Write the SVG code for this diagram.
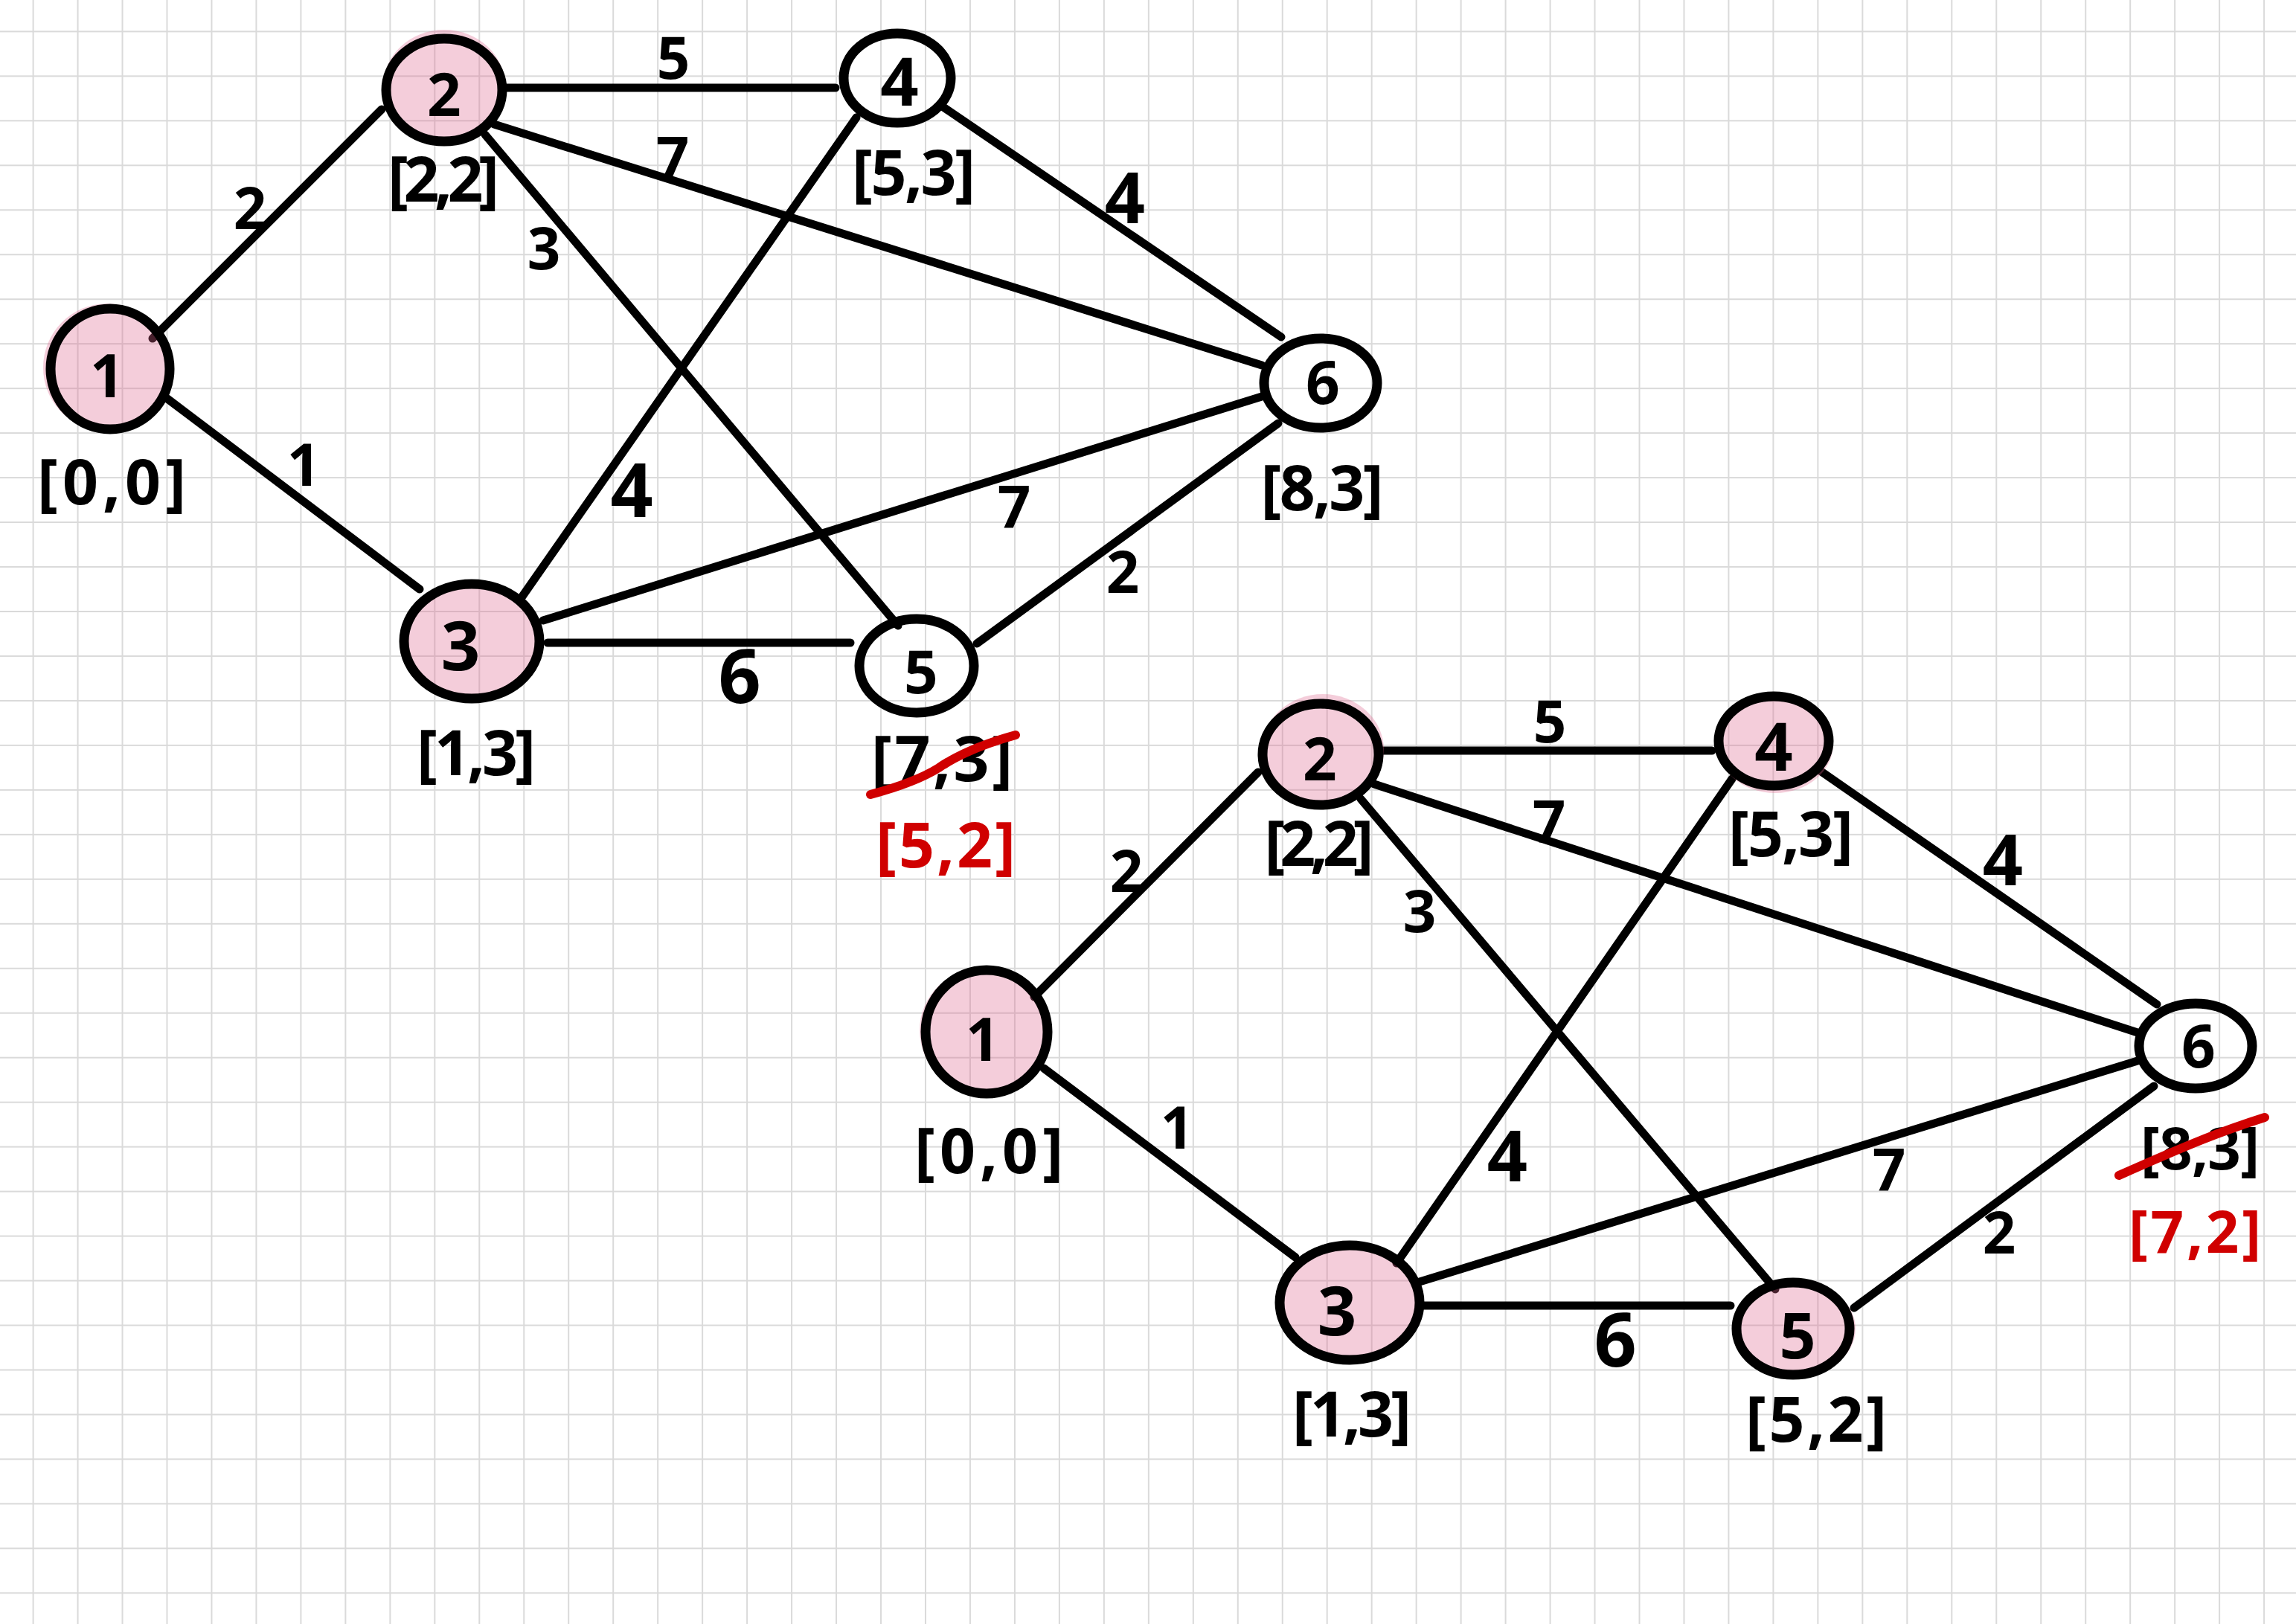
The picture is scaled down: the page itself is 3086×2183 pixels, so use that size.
<svg xmlns="http://www.w3.org/2000/svg" width="3086" height="2183" viewBox="0 0 3086 2183">
<defs>
<pattern id="gridpat" patternUnits="userSpaceOnUse" x="14.6" y="12.4" width="59.97" height="59.97">
<path d="M29.985 0V59.97M0 29.985H59.97" stroke="#dadada" stroke-width="2" fill="none"/>
</pattern>
</defs>
<style>
.edge{stroke:#000;stroke-width:11;stroke-linecap:round;fill:none}
.ring{stroke:#000;stroke-width:13;fill:none}
.pink{fill:#dc648c;fill-opacity:0.32;stroke:none}
.t{font-family:"Noto Sans","DejaVu Sans",sans-serif;font-weight:700;text-anchor:middle;fill:#000}
.nl{font-size:80px}
.wl{font-size:78px}
.cl{font-size:84px}
.red{fill:#d00000}
.strike{stroke:#d00000;stroke-width:12;stroke-linecap:round;fill:none}
</style>
<rect width="3086" height="2183" fill="#ffffff"/>
<rect width="3086" height="2183" fill="url(#gridpat)"/>

<g id="connectors">
<!-- top graph -->
<line class="edge" x1="205" y1="455" x2="513" y2="147"/>
<line class="edge" x1="225" y1="536" x2="564" y2="792"/>
<line class="edge" x1="678" y1="118" x2="1123" y2="118"/>
<line class="edge" x1="664" y1="167" x2="1696" y2="491"/>
<line class="edge" x1="652" y1="181" x2="1207" y2="841"/>
<line class="edge" x1="1151" y1="158" x2="699" y2="806"/>
<line class="edge" x1="1265" y1="142" x2="1722" y2="453"/>
<line class="edge" x1="730" y1="834" x2="1696" y2="533"/>
<line class="edge" x1="736" y1="864" x2="1143" y2="864"/>
<line class="edge" x1="1313" y1="865" x2="1718" y2="569"/>
<text class="t wl" x="336" y="308">2</text>
<text class="t wl" x="408" y="653">1</text>
<text class="t wl" x="905" y="106">5</text>
<text class="t wl" x="904" y="240">7</text>
<text class="t wl" x="731" y="362">3</text>
<text class="t wl" x="849" y="695" style="font-size:100px">4</text>
<text class="t wl" x="1512" y="300" style="font-size:95px">4</text>
<text class="t wl" x="1363" y="709">7</text>
<text class="t wl" x="994" y="945" style="font-size:100px">6</text>
<text class="t wl" x="1509" y="797">2</text>
<!-- bottom graph -->
<line class="edge" x1="1390" y1="1340" x2="1691" y2="1038"/>
<line class="edge" x1="1403" y1="1436" x2="1741" y2="1690"/>
<line class="edge" x1="1858" y1="1009" x2="2301" y2="1009"/>
<line class="edge" x1="1847" y1="1054" x2="2873" y2="1388"/>
<line class="edge" x1="1829" y1="1074" x2="2386" y2="1733"/>
<line class="edge" x1="2328" y1="1047" x2="1877" y2="1698"/>
<line class="edge" x1="2442" y1="1033" x2="2899" y2="1350"/>
<line class="edge" x1="1908" y1="1723" x2="2873" y2="1426"/>
<line class="edge" x1="1914" y1="1755" x2="2326" y2="1755"/>
<line class="edge" x1="2492" y1="1758" x2="2895" y2="1460"/>
<text class="t wl" x="1514" y="1199">2</text>
<text class="t wl" x="1582" y="1544">1</text>
<text class="t wl" x="2083" y="998">5</text>
<text class="t wl" x="2082" y="1132">7</text>
<text class="t wl" x="1908" y="1253">3</text>
<text class="t wl" x="2026" y="1588" style="font-size:95px">4</text>
<text class="t wl" x="2692" y="1190" style="font-size:95px">4</text>
<text class="t wl" x="2539" y="1600">7</text>
<text class="t wl" x="2171" y="1837" style="font-size:100px">6</text>
<text class="t wl" x="2687" y="1685">2</text>
</g>

<g id="top-n1">
<ellipse class="pink" cx="144" cy="494" rx="86" ry="86"/>
<ellipse class="ring" cx="148" cy="496" rx="80" ry="81"/>
<text class="t nl" x="144" y="534">1</text>
<text class="t cl" x="150" y="678" textLength="200" lengthAdjust="spacing">[0,0]</text>
</g>
<g id="top-n2">
<ellipse class="pink" cx="597" cy="116" rx="82" ry="76"/>
<ellipse class="ring" cx="597" cy="121" rx="78" ry="69"/>
<text class="t nl" x="597" y="156">2</text>
<text class="t cl" x="596" y="271" textLength="150" lengthAdjust="spacing">[2,2]</text>
</g>
<g id="top-n3">
<ellipse class="pink" cx="637" cy="862" rx="93" ry="80"/>
<ellipse class="ring" cx="634" cy="862" rx="91" ry="77"/>
<text class="t nl" x="619" y="901" style="font-size:92px">3</text>
<text class="t cl" x="640" y="1042" textLength="160" lengthAdjust="spacing">[1,3]</text>
</g>
<g id="top-n4">
<ellipse class="ring" cx="1206" cy="105" rx="72" ry="60"/>
<text class="t nl" x="1209" y="142" style="font-size:90px">4</text>
<text class="t cl" x="1228" y="262" textLength="166" lengthAdjust="spacing">[5,3]</text>
</g>
<g id="top-n5">
<ellipse class="ring" cx="1232" cy="895" rx="77" ry="63"/>
<text class="t nl" x="1238" y="932">5</text>
<text class="t cl" x="1266" y="1050" textLength="190" lengthAdjust="spacing">[7,3]</text>
<path class="strike" d="M1170 1068 Q1230 1052 1262 1032 Q1300 1006 1365 988"/>
<text class="t cl red" x="1271" y="1166" textLength="188" lengthAdjust="spacing">[5,2]</text>
</g>
<g id="top-n6">
<ellipse class="ring" cx="1775" cy="515" rx="76" ry="60"/>
<text class="t nl" x="1778" y="543">6</text>
<text class="t cl" x="1777" y="686" textLength="165" lengthAdjust="spacing">[8,3]</text>
</g>

<g id="bottom-n1">
<ellipse class="pink" cx="1322" cy="1385" rx="86" ry="84"/>
<ellipse class="ring" cx="1326" cy="1387" rx="82" ry="83"/>
<text class="t nl" x="1321" y="1426">1</text>
<text class="t cl" x="1329" y="1577" textLength="200" lengthAdjust="spacing">[0,0]</text>
</g>
<g id="bottom-n2">
<ellipse class="pink" cx="1778" cy="1008" rx="82" ry="75"/>
<ellipse class="ring" cx="1775" cy="1014" rx="78" ry="68"/>
<text class="t nl" x="1774" y="1049">2</text>
<text class="t cl" x="1773" y="1164" textLength="147" lengthAdjust="spacing">[2,2]</text>
</g>
<g id="bottom-n3">
<ellipse class="pink" cx="1818" cy="1751" rx="96" ry="80"/>
<ellipse class="ring" cx="1814" cy="1751" rx="94" ry="77"/>
<text class="t nl" x="1797" y="1795" style="font-size:92px">3</text>
<text class="t cl" x="1817" y="1931" textLength="160" lengthAdjust="spacing">[1,3]</text>
</g>
<g id="bottom-n4">
<ellipse class="pink" cx="2386" cy="1000" rx="78" ry="66"/>
<ellipse class="ring" cx="2384" cy="996" rx="74" ry="60"/>
<text class="t nl" x="2384" y="1036" style="font-size:90px">4</text>
<text class="t cl" x="2407" y="1151" textLength="168" lengthAdjust="spacing">[5,3]</text>
</g>
<g id="bottom-n5">
<ellipse class="pink" cx="2414" cy="1786" rx="80" ry="64"/>
<ellipse class="ring" cx="2410" cy="1786" rx="76" ry="62"/>
<text class="t nl" x="2416" y="1826" style="font-size:86px">5</text>
<text class="t cl" x="2441" y="1938" textLength="190" lengthAdjust="spacing">[5,2]</text>
</g>
<g id="bottom-n6">
<ellipse class="ring" cx="2951" cy="1406" rx="76" ry="57"/>
<text class="t nl" x="2955" y="1435">6</text>
<text class="t cl" x="2957" y="1572" style="font-size:78px" textLength="160" lengthAdjust="spacing">[8,3]</text>
<path class="strike" d="M2848 1580 Q2920 1548 2960 1532 Q3000 1516 3044 1502"/>
<text class="t cl red" x="2950" y="1684" style="font-size:78px" textLength="178" lengthAdjust="spacing">[7,2]</text>
</g>
</svg>
